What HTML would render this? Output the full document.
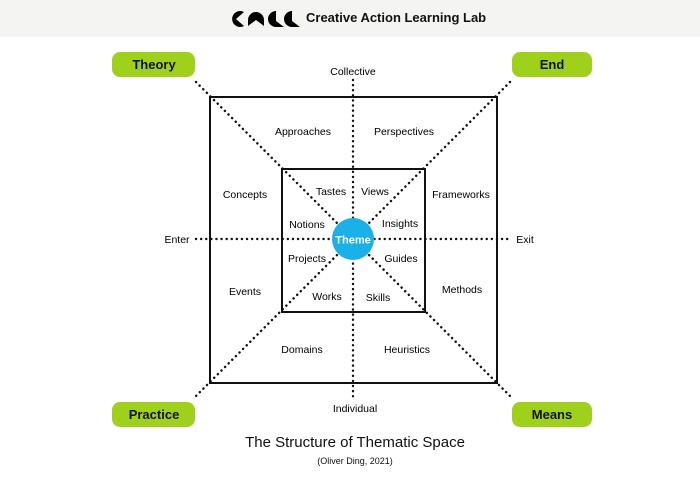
<!DOCTYPE html>
<html><head><style>
body{margin:0;background:#fff;}
</style></head><body>
<svg width="700" height="481" xmlns="http://www.w3.org/2000/svg" font-family="Liberation Sans, sans-serif">
<rect x="0" y="0" width="700" height="37" fill="#f4f5f3"/>
<g fill="#000">
<path d="M244 12 A8 8 0 1 0 244 26 L236 19 Z"/>
<path d="M248 26 L248 20 A8 8 0 0 1 264 20 L264 26 L256 20 Z"/>
<path d="M276 11 A8 8 0 0 0 276 27 L284 27 L276 21 Z"/>
<path d="M292 11 A8 8 0 0 0 292 27 L300 27 L292 21 Z"/>
</g>
<text x="306" y="22" font-size="13" font-weight="bold" fill="#111">Creative Action Learning Lab</text>
<g stroke="#111" stroke-width="2.4" stroke-dasharray="0.1 5" stroke-linecap="round">
<line x1="196" y1="82" x2="510" y2="396"/>
<line x1="510" y1="82" x2="196" y2="396"/>
<line x1="353" y1="80" x2="353" y2="398"/>
<line x1="196" y1="239" x2="510" y2="239"/>
</g>
<rect x="210" y="97" width="287" height="286" fill="none" stroke="#111" stroke-width="2"/>
<rect x="282" y="169" width="143" height="143" fill="none" stroke="#111" stroke-width="2"/>
<circle cx="353" cy="239" r="21" fill="#1ab0e8"/>
<text x="353" y="243.5" font-size="11" font-weight="bold" fill="#fff" text-anchor="middle">Theme</text>
<g fill="#9fd11c">
<rect x="112" y="52" width="83" height="25" rx="8"/>
<rect x="512" y="52" width="80" height="25" rx="8"/>
<rect x="112" y="402" width="83" height="25" rx="8"/>
<rect x="512" y="402" width="80" height="25" rx="8"/>
</g>
<g font-size="13" font-weight="bold" fill="#111" text-anchor="middle">
<text x="154" y="69">Theory</text>
<text x="552" y="69">End</text>
<text x="154" y="419">Practice</text>
<text x="552" y="419">Means</text>
</g>
<g font-size="10.5" fill="#000" text-anchor="middle">
<text x="353" y="75">Collective</text>
<text x="355" y="412">Individual</text>
<text x="177" y="243">Enter</text>
<text x="525" y="243">Exit</text>
<text x="303" y="135">Approaches</text>
<text x="404" y="135">Perspectives</text>
<text x="245" y="198">Concepts</text>
<text x="461" y="198">Frameworks</text>
<text x="245" y="295">Events</text>
<text x="462" y="293">Methods</text>
<text x="302" y="353">Domains</text>
<text x="407" y="353">Heuristics</text>
<text x="331" y="195">Tastes</text>
<text x="375" y="195">Views</text>
<text x="307" y="228">Notions</text>
<text x="400" y="227">Insights</text>
<text x="307" y="262">Projects</text>
<text x="401" y="262">Guides</text>
<text x="327" y="300">Works</text>
<text x="378" y="301">Skills</text>
</g>
<text x="355" y="447" font-size="15" fill="#111" text-anchor="middle">The Structure of Thematic Space</text>
<text x="355" y="464" font-size="9" fill="#111" text-anchor="middle">(Oliver Ding, 2021)</text>
</svg>
</body></html>
